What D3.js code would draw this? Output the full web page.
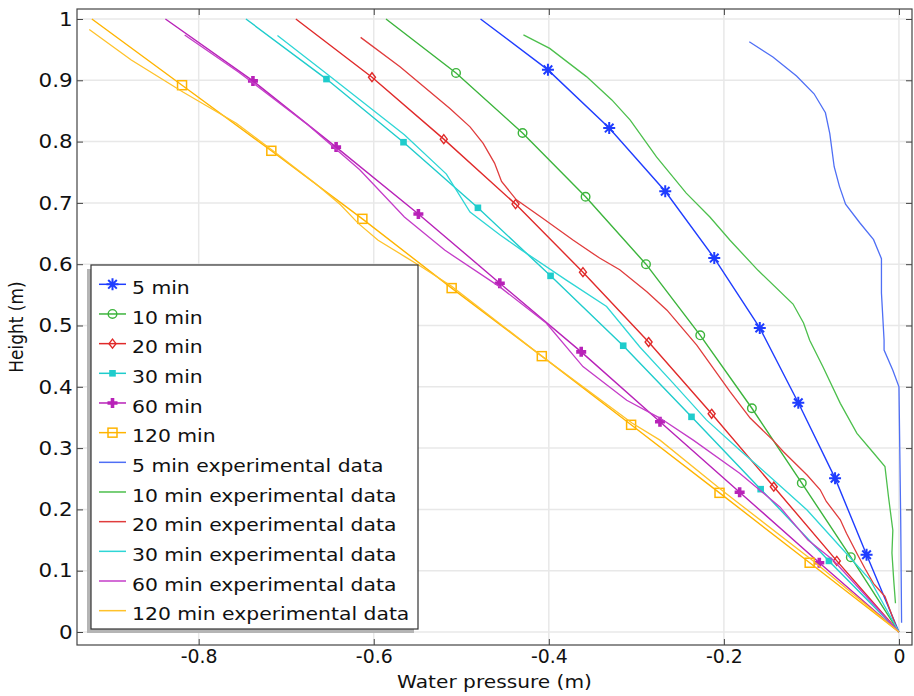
<!DOCTYPE html>
<html>
<head>
<meta charset="utf-8">
<script src="https://cdn.jsdelivr.net/npm/d3@7"></script>
<style>
  body { margin: 0; background: #fff; }
  text { font-family: "DejaVu Sans", sans-serif; fill: #111; }
</style>
</head>
<body>
<div id="chart"></div>
<script>
// tick values
const xTicks = [-0.8, -0.6, -0.4, -0.2, 0];
const yTicks = [0, 0.1, 0.2, 0.3, 0.4, 0.5, 0.6, 0.7, 0.8, 0.9, 1];

const legendNames = ["5 min", "10 min", "20 min", "30 min", "60 min", "120 min",
  "5 min experimental data", "10 min experimental data", "20 min experimental data",
  "30 min experimental data", "60 min experimental data", "120 min experimental data"];

// model curves [pressure, height] (markers on the inner points)
const model5   = [[-0.478,1.000],[-0.401,0.917],[-0.331,0.822],[-0.267,0.719],[-0.211,0.610],[-0.159,0.496],[-0.115,0.374],[-0.073,0.251],[-0.037,0.126],[0,0]];
const model10  = [[-0.586,1.000],[-0.506,0.912],[-0.430,0.814],[-0.358,0.710],[-0.289,0.600],[-0.227,0.484],[-0.168,0.365],[-0.111,0.243],[-0.055,0.122],[0,0]];
const model20  = [[-0.689,1.000],[-0.602,0.905],[-0.520,0.804],[-0.438,0.698],[-0.361,0.587],[-0.286,0.473],[-0.214,0.356],[-0.143,0.237],[-0.071,0.116],[0,0]];
const model30  = [[-0.746,1.000],[-0.654,0.902],[-0.566,0.799],[-0.481,0.692],[-0.398,0.581],[-0.315,0.467],[-0.237,0.351],[-0.158,0.233],[-0.080,0.116],[0,0]];
const model60  = [[-0.838,1.000],[-0.738,0.899],[-0.643,0.791],[-0.549,0.682],[-0.456,0.569],[-0.363,0.457],[-0.273,0.343],[-0.182,0.228],[-0.091,0.113],[0,0]];
const model120 = [[-0.922,1.000],[-0.819,0.892],[-0.717,0.785],[-0.613,0.674],[-0.511,0.561],[-0.408,0.450],[-0.306,0.338],[-0.205,0.227],[-0.102,0.113],[0,0]];

// experimental data
const exp5 = [[-0.171,0.963],[-0.144,0.938],[-0.117,0.907],[-0.097,0.878],[-0.084,0.847],[-0.079,0.813],[-0.074,0.759],[-0.068,0.727],[-0.061,0.698],[-0.045,0.668],[-0.029,0.640],[-0.020,0.609],[-0.020,0.553],[-0.017,0.476],[-0.017,0.460],[-0.007,0.427],[0.000,0.400],[0.001,0.292],[0.002,0.183],[0.003,0.015]];
const exp10 = [[-0.429,0.974],[-0.399,0.952],[-0.357,0.906],[-0.328,0.868],[-0.307,0.835],[-0.288,0.797],[-0.277,0.775],[-0.243,0.716],[-0.216,0.677],[-0.193,0.639],[-0.161,0.590],[-0.121,0.535],[-0.109,0.504],[-0.102,0.476],[-0.087,0.433],[-0.067,0.373],[-0.048,0.324],[-0.029,0.292],[-0.016,0.270],[-0.012,0.221],[-0.007,0.166],[-0.008,0.129],[-0.006,0.085],[-0.004,0.047]];
const exp20 = [[-0.615,0.970],[-0.570,0.922],[-0.513,0.854],[-0.490,0.824],[-0.475,0.797],[-0.462,0.765],[-0.454,0.735],[-0.437,0.705],[-0.407,0.675],[-0.372,0.639],[-0.342,0.610],[-0.319,0.591],[-0.288,0.555],[-0.265,0.525],[-0.231,0.468],[-0.193,0.392],[-0.170,0.349],[-0.144,0.313],[-0.132,0.294],[-0.105,0.256],[-0.090,0.232],[-0.083,0.213],[-0.067,0.183],[-0.060,0.161],[-0.048,0.128],[-0.039,0.104],[-0.029,0.079],[-0.016,0.058],[-0.001,0.000]];
const exp30 = [[-0.710,0.973],[-0.653,0.910],[-0.565,0.811],[-0.517,0.747],[-0.490,0.685],[-0.456,0.648],[-0.431,0.623],[-0.380,0.574],[-0.334,0.531],[-0.296,0.465],[-0.258,0.406],[-0.220,0.346],[-0.182,0.297],[-0.147,0.253],[-0.105,0.199],[-0.067,0.139],[-0.033,0.085],[0,0]];
const exp60 = [[-0.816,0.974],[-0.755,0.914],[-0.730,0.887],[-0.675,0.827],[-0.616,0.754],[-0.565,0.677],[-0.519,0.623],[-0.456,0.563],[-0.403,0.504],[-0.361,0.433],[-0.311,0.378],[-0.273,0.349],[-0.235,0.313],[-0.182,0.259],[-0.136,0.204],[-0.104,0.150],[-0.075,0.117],[0,0]];
const exp120 = [[-0.925,0.983],[-0.877,0.933],[-0.818,0.881],[-0.757,0.830],[-0.714,0.784],[-0.667,0.732],[-0.638,0.697],[-0.618,0.667],[-0.595,0.639],[-0.564,0.612],[-0.547,0.597],[-0.511,0.564],[-0.408,0.450],[-0.305,0.341],[-0.273,0.313],[-0.203,0.232],[-0.099,0.117],[0,0]];

const modelColors = ["#1f3dff", "#3cb43c", "#e02a2a", "#1fcccc", "#b822b8", "#ffb400"];
const expColors   = ["#4f6ff5", "#4cbf4c", "#e03c3c", "#2ed6d6", "#c43cc8", "#ffc22a"];
const markerTypes = ["star", "circle", "diamond", "fsquare", "plus", "osquare"];

const models = [model5, model10, model20, model30, model60, model120];
const exps = [exp5, exp10, exp20, exp30, exp60, exp120];

const W = 914, H = 696;
const margin = { top: 9, right: 2, bottom: 51, left: 77 },
      width  = W - margin.left - margin.right,
      height = H - margin.top - margin.bottom;
const stretch = "scale(1.12,1)";

const svg = d3.select("#chart").append("svg")
  .attr("width", W).attr("height", H)
  .style("background", "#fff");

const g = svg.append("g").attr("transform", `translate(${margin.left},${margin.top})`);

const x = d3.scaleLinear().domain([-0.939, 0.0149]).range([0, width]);
const y = d3.scaleLinear().domain([-0.0212, 1.0163]).range([height, 0]);

// grid
g.append("g").selectAll("line").data(xTicks).enter().append("line")
  .attr("x1", d => x(d)).attr("x2", d => x(d)).attr("y1", 0).attr("y2", height)
  .attr("stroke", "#e8e8e8").attr("stroke-width", 1.5);
g.append("g").selectAll("line").data(yTicks).enter().append("line")
  .attr("y1", d => y(d)).attr("y2", d => y(d)).attr("x1", 0).attr("x2", width)
  .attr("stroke", "#e8e8e8").attr("stroke-width", 1.5);

const fmt = d => d === 0 ? "0" : String(d);

// axes, ticks pointing inwards
const axB = g.append("g").attr("transform", `translate(0,${height})`)
  .call(d3.axisBottom(x).tickValues(xTicks).tickSizeInner(-6).tickSizeOuter(0).tickPadding(5).tickFormat(fmt));
const axT = g.append("g")
  .call(d3.axisTop(x).tickValues(xTicks).tickSizeInner(-6).tickSizeOuter(0).tickFormat(""));
const axL = g.append("g")
  .call(d3.axisLeft(y).tickValues(yTicks).tickSizeInner(-6).tickSizeOuter(0).tickPadding(4).tickFormat(fmt));
const axR = g.append("g").attr("transform", `translate(${width},0)`)
  .call(d3.axisRight(y).tickValues(yTicks).tickSizeInner(-6).tickSizeOuter(0).tickFormat(""));

[axB, axT, axL, axR].forEach(a => {
  a.select(".domain").remove();
  a.selectAll("line").attr("stroke", "#444");
  a.selectAll("text").style("font-family", "DejaVu Sans").attr("fill", "#111")
    .attr("transform", stretch);
});
axB.selectAll("text").style("font-size", "18px").attr("transform", "scale(1.05,1.04)");
axL.selectAll("text").style("font-size", "19.5px").attr("transform", "scale(1.1,1)");

g.append("rect").attr("width", width).attr("height", height)
  .attr("fill", "none").attr("stroke", "#444").attr("stroke-width", 1.2);

// clip
svg.append("clipPath").attr("id", "clip").append("rect")
  .attr("width", width).attr("height", height);
const plot = g.append("g").attr("clip-path", "url(#clip)");

const line = d3.line().x(d => x(d[0])).y(d => y(d[1]));

function drawMarker(sel, type, color) {
  if (type === "star") {
    sel.append("path").attr("d", "M0,-6V6M-6,0H6M-4.3,-4.3L4.3,4.3M-4.3,4.3L4.3,-4.3")
      .attr("stroke", color).attr("stroke-width", 2).attr("fill", "none");
  } else if (type === "circle") {
    sel.append("circle").attr("r", 4.3).attr("fill", "none").attr("stroke", color).attr("stroke-width", 1.4);
  } else if (type === "diamond") {
    sel.append("path").attr("d", "M0,-4.5L3.5,0L0,4.5L-3.5,0Z")
      .attr("fill", "none").attr("stroke", color).attr("stroke-width", 1.4);
  } else if (type === "fsquare") {
    sel.append("rect").attr("x", -3.3).attr("y", -3.3).attr("width", 6.6).attr("height", 6.6).attr("fill", color);
  } else if (type === "plus") {
    sel.append("path").attr("d", "M-1.8,-5H1.8V-1.8H5V1.8H1.8V5H-1.8V1.8H-5V-1.8H-1.8Z").attr("fill", color);
  } else if (type === "osquare") {
    sel.append("rect").attr("x", -4.5).attr("y", -4.5).attr("width", 9).attr("height", 9)
      .attr("fill", "none").attr("stroke", color).attr("stroke-width", 1.5);
  }
}

// model lines with markers
models.forEach((m, i) => {
  plot.append("path").datum(m).attr("d", line)
    .attr("fill", "none").attr("stroke", modelColors[i]).attr("stroke-width", 1.4);
  m.slice(1, -1).forEach(p => {
    const mk = plot.append("g").attr("transform", `translate(${x(p[0])},${y(p[1])})`);
    drawMarker(mk, markerTypes[i], modelColors[i]);
  });
});

// experimental lines
exps.forEach((e, i) => {
  plot.append("path").datum(e).attr("d", line)
    .attr("fill", "none").attr("stroke", expColors[i]).attr("stroke-width", 1.3);
});

// axis titles
svg.append("text")
  .attr("transform", `translate(${margin.left + width / 2},688) ${stretch}`)
  .attr("text-anchor", "middle").style("font-size", "18px")
  .text("Water pressure (m)");
svg.append("text")
  .attr("transform", `translate(23,${margin.top + height / 2}) rotate(-90) scale(1,1.12)`)
  .attr("text-anchor", "middle").style("font-size", "17px")
  .text("Height (m)");

// legend
const lg = svg.append("g");
const lx = 91, ly = 265, lw = 327, lh = 364;
lg.append("rect").attr("x", lx - 4).attr("y", ly + 4).attr("width", lw).attr("height", lh).attr("fill", "#b5b5b5");
lg.append("rect").attr("x", lx).attr("y", ly).attr("width", lw).attr("height", lh)
  .attr("fill", "#fff").attr("stroke", "#333").attr("stroke-width", 1.2);

legendNames.forEach((name, i) => {
  const cy = 284.3 + i * 29.67;
  const isModel = i < 6;
  const col = isModel ? modelColors[i] : expColors[i - 6];
  lg.append("line").attr("x1", 99).attr("x2", 126).attr("y1", cy).attr("y2", cy)
    .attr("stroke", col).attr("stroke-width", 1.5);
  if (isModel) {
    const mk = lg.append("g").attr("transform", `translate(112.5,${cy})`);
    drawMarker(mk, markerTypes[i], col);
  }
  lg.append("text").attr("transform", `translate(132,${cy + 9.8}) scale(1.1,1)`)
    .style("font-size", "18.5px").text(name);
});
</script>
</body>
</html>
